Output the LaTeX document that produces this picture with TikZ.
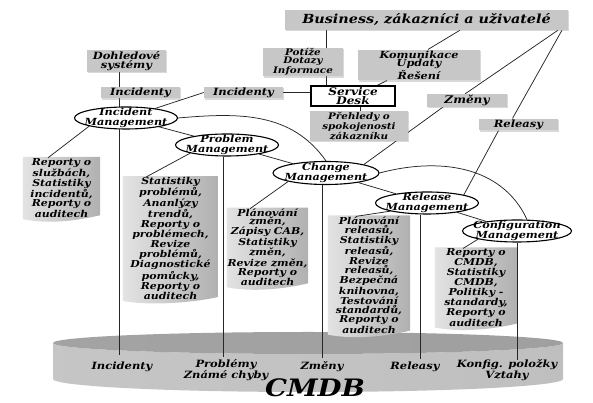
\documentclass[tikz,border=0pt]{standalone}
\usepackage{fontspec}
\setmainfont{DejaVu Serif}[FakeStretch=1.15]
\usetikzlibrary{shapes.geometric,shadows,calc}
\pgfdeclarelayer{back}
\pgfdeclarelayer{bg}
\pgfsetlayers{back,bg,main}
\definecolor{boxgray}{gray}{0.78}
\tikzset{
  conn/.style={draw=black!85, line width=0.75pt},
  gbox/.style={fill=boxgray, inner sep=1pt, align=center,
    font=\bfseries\itshape\fontsize{10}{9}\selectfont,
    drop shadow={shadow xshift=1.2pt,shadow yshift=-1.2pt,opacity=0.3}},
  mg/.style={ellipse, draw=black, line width=1.1pt, fill=white, inner sep=0pt,
    minimum width=103pt, minimum height=22pt, label={[mgtxt]center:#1}},
  mgtxt/.style={align=center, inner sep=0pt, font=\bfseries\itshape\fontsize{9.8}{9.6}\selectfont},
  rep/.style={inner sep=0pt, align=center, font=\bfseries\itshape\fontsize{9.5}{8.2}\selectfont},
  repshade/.style={left color=gray!22, middle color=gray!38, right color=gray!62},
  cyl/.style={inner sep=0pt, align=center, font=\bfseries\itshape\fontsize{10}{9.5}\selectfont},
}
\begin{document}
\begin{tikzpicture}[x=1pt,y=1pt]
\useasboundingbox (0,0) rectangle (593,403);

% top boxes
\node[gbox, minimum width=283pt, minimum height=20pt, font=\bfseries\itshape\fontsize{12.5}{12}\selectfont] (biz) at (426.5,383) {Business, zákazníci a uživatelé};
\node[gbox, minimum width=79pt, minimum height=22pt, font=\bfseries\itshape\fontsize{10}{9.5}\selectfont] (doh) at (126.5,342) {Dohledové\\systémy};
\node[gbox, minimum width=80pt, minimum height=24pt, font=\bfseries\itshape\fontsize{9}{8.2}\selectfont] (pot) at (303,341) {Potíže\\Dotazy\\Informace};
\node[gbox, minimum width=122pt, minimum height=27pt, font=\bfseries\itshape\fontsize{9.8}{8.8}\selectfont] (kom) at (419,338) {Komunikace\\Updaty\\Řešení};
\node[draw=black, line width=1.1pt, fill=white, minimum width=84pt, minimum height=20pt, inner sep=1pt, align=center, font=\bfseries\itshape\fontsize{10.5}{9}\selectfont] (sd) at (353,307) {Service\\Desk};
\node[gbox, minimum width=79pt, minimum height=11pt] (incl) at (140.5,310.5) {Incidenty};
\node[gbox, minimum width=79pt, minimum height=11pt] (incm) at (243.5,310.5) {Incidenty};
\node[gbox, minimum width=80pt, minimum height=11pt, font=\bfseries\itshape\fontsize{10.5}{9}\selectfont] (zm) at (467,302.5) {Změny};
\node[gbox, minimum width=98pt, minimum height=24pt, font=\bfseries\itshape\fontsize{9}{8.2}\selectfont] (preh) at (359,277) {Přehledy o\\spokojenosti\\zákazníku};
\node[gbox, minimum width=79pt, minimum height=11pt] (rls) at (518.5,278.5) {Releasy};

% management ellipses
\node[mg={Incident\\Management}] (inc) at (126,285) {};
\node[mg={Problem\\Management}] (prob) at (227,258) {};
\node[mg={Change\\Management}, minimum width=106pt, minimum height=23pt] (chg) at (326,230) {};
\node[mg={Release\\Management}] (rel) at (427,200) {};
\node[mg={Configuration\\Management}, minimum width=109pt] (cfg) at (517,172) {};

% reports
\node[rep, minimum width=77pt, minimum height=60pt] (incr) at (61.5,215) {Reporty o\\službách,\\Statistiky\\incidentů,\\Reporty o\\auditech};
\node[rep, minimum width=95pt, minimum height=97pt] (probr) at (170.5,164.5) {Statistiky\\problémů,\\Ananlýzy\\trendů,\\Reporty o\\problémech,\\Revize\\problémů,\\Diagnostické\\pomůcky,\\Reporty o\\auditech};
\node[rep, minimum width=81pt, minimum height=69pt] (chgr) at (267.5,155.5) {Plánování\\změn,\\Zápisy CAB,\\Statistiky\\změn,\\Revize změn,\\Reporty o\\auditech};
\node[rep, minimum width=82pt, minimum height=94pt] (relr) at (369,128) {Plánování\\releasů,\\Statistiky\\releasů,\\Revize\\releasů,\\Bezpečná\\knihovna,\\Testování\\standardů,\\Reporty o\\auditech};
\node[rep, minimum width=82pt, minimum height=69pt] (cfgr) at (476,115.5) {Reporty o\\CMDB,\\Statistiky\\CMDB,\\Politiky -\\standardy,\\Reporty o\\auditech};

% CMDB labels
\node[cyl] (lInc) at (122,36) {Incidenty};
\node[cyl] (lProb) at (226,33) {Problémy\\Známé chyby};
\node[cyl] (lZm) at (322,36) {Změny};
\node[cyl] (lRel) at (415,36) {Releasy};
\node[cyl] (lCfg) at (507,33) {Konfig. položky\\Vztahy};
\node[cyl, font=\bfseries\itshape\fontsize{24}{24}\selectfont] (lCmdb) at (315,15) {CMDB};

\coordinate (eInc) at (119,48);
\coordinate (eProb) at (223,46);
\coordinate (eChg) at (322,45);
\coordinate (eRel) at (420,44);
\coordinate (eCfg) at (517,43);

\begin{pgfonlayer}{bg}
  \foreach \n in {incr,probr,chgr,relr,cfgr}{
    \shade[repshade] ([yshift=1pt]\n.north west) -- ([yshift=1pt]\n.north east) -- ([yshift=3pt]\n.south east)
      .. controls ([xshift=-25pt,yshift=-3pt]\n.south east) and ([xshift=25pt,yshift=-6pt]\n.south west) .. ([yshift=-1pt]\n.south west) -- cycle;
  }
  % verticals to CMDB
  \draw[conn] ([xshift=-7.5pt]doh.south) -- (eInc);
  \draw[conn] ([xshift=-4pt]prob.south) -- (eProb);
  \draw[conn] ([xshift=-4pt]chg.south) -- (eChg);
  \draw[conn] ([xshift=-7pt]rel.south) -- (eRel);
  \draw[conn] (cfg.south) -- (eCfg);
  % service desk links
  \draw[conn] ([xshift=-100.5pt]biz.south) -- ([xshift=-27pt]sd.north);
  \draw[conn] ([xshift=33.5pt]biz.south) -- ([xshift=9pt]kom.north);
  \draw[conn] ([xshift=-32pt]kom.south) -- ([xshift=24pt]sd.north);
  \draw[conn] ([xshift=7pt]sd.south) -- ([xshift=7pt]sd.south |- preh.north);
  \draw[conn] (incm.east) -- (incm.east -| sd.west);
  \draw[conn] (inc) -- (incm.west);
  % business to change/release
  \draw[conn] ([xshift=131.5pt]biz.south) -- ([xshift=-2pt]zm.north);
  \draw[conn] ([xshift=-24pt]zm.south) -- (chg.north east);
  \draw[conn] ([xshift=135.5pt]biz.south) -- ([xshift=-6pt]rls.north);
  \draw[conn] ([xshift=-20pt]rls.south) -- (rel.north east);
  % management chain
  \draw[conn] (inc) -- (prob);
  \draw[conn] (prob) -- (chg);
  \draw[conn] (chg) -- (rel);
  \draw[conn] (rel) -- (cfg);
  \draw[conn] (inc.east) to[out=5,in=125] (chg.north);
  \draw[conn] (chg.east) to[out=15,in=115] ([xshift=10pt]cfg.north);
  % report leaders
  \draw[conn] (inc.south west) -- ([xshift=-13.5pt]incr.north);
  \draw[conn] (prob.south west) -- ([xshift=-24.5pt]probr.north);
  \draw[conn] (chg.south west) -- ([xshift=-17.5pt]chgr.north);
  \draw[conn] (rel.south west) -- ([xshift=-13pt]relr.north);
  \draw[conn] (cfg.south west) -- ([xshift=-13pt]cfgr.north);
\end{pgfonlayer}

\begin{pgfonlayer}{back}
  \shade[left color=gray!45, middle color=gray!16, right color=gray!50]
    (53,60) -- (53,24) arc[start angle=180, end angle=360, x radius=255, y radius=13]
    -- (563,60) arc[start angle=0, end angle=-180, x radius=255, y radius=11] -- cycle;
  \shade[left color=gray!72, middle color=gray!38, right color=gray!75]
    (308,60) ellipse[x radius=255, y radius=11];
\end{pgfonlayer}
\end{tikzpicture}
\end{document}
